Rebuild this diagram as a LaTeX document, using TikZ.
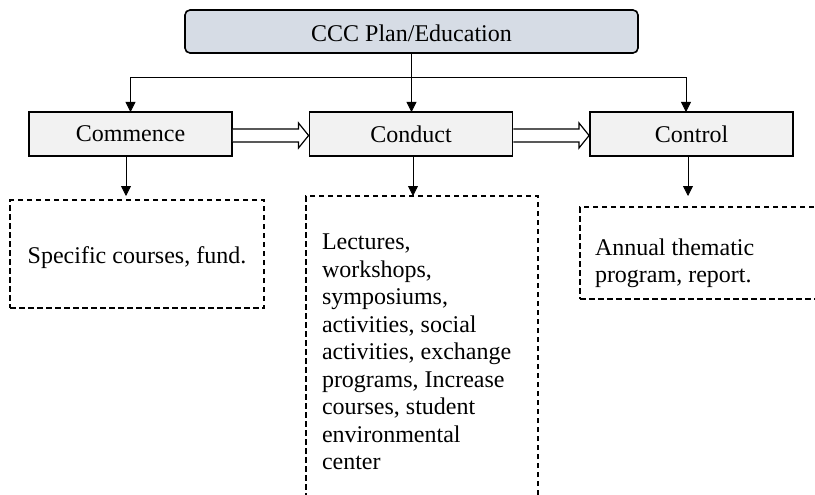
\documentclass[tikz,border=0pt]{standalone}
\usepackage{fontspec}
\setmainfont{Liberation Serif}
\usetikzlibrary{arrows.meta,calc}
\definecolor{headfill}{HTML}{D6DCE5}
\definecolor{stagefill}{HTML}{F2F2F2}
% hollow block arrow from the east side of #1 to the west side of #2
\newcommand\stagearrow[2]{%
  \draw[hollow] ($(#1.east)+(0.9,-5)$) -- ($(#2.west)+(-11,-5)$)
    -- ($(#2.west)+(-11,-11)$) -- ($(#2.west)+(-0.9,1.5)$)
    -- ($(#2.west)+(-11,14)$) -- ($(#2.west)+(-11,8)$)
    -- ($(#1.east)+(0.9,8)$);}
\begin{document}
\begin{tikzpicture}[x=1pt,y=-1pt,
  every node/.style={font=\fontsize{24}{27.5}\selectfont, inner sep=0pt, outer sep=0pt},
  headbox/.style={draw, line width=1.6pt, rounded corners=5pt, fill=headfill,
    minimum width=453pt, minimum height=43pt, text height=20pt, text depth=0pt},
  stagebox/.style={draw, line width=1.9pt, fill=stagefill,
    minimum width=203pt, minimum height=44pt},
  notebox/.style={draw, dash pattern=on 5.5pt off 3.5pt, line width=1.3pt},
  conn/.style={line width=0.8pt},
  downarrow/.style={conn, -{Triangle[length=10pt,width=10pt]}},
  hollow/.style={draw, line width=1.2pt, fill=white},
  bodytext/.style={align=left, anchor=north west}
]
\clip (0,0) rectangle (815,495);

% header and the three stages
\node[headbox] (top) at (411.5,31.5) {CCC Plan/Education};
\node[stagebox] (commence) at (130.5,134) {Commence};
\node[stagebox] (conduct) at (411,134) {Conduct};
\node[stagebox] (control) at (691.5,134) {Control};

% dashed note boxes
\node[notebox, minimum width=254pt, minimum height=108pt] (fundbox) at (137,254) {};
\node[notebox, minimum width=232pt, minimum height=328pt] (actbox) at (422,360) {};
\node[notebox, minimum width=260pt, minimum height=92pt] (progbox) at (710,253) {};

\node[anchor=base] (fundtext) at (137,263) {Specific courses, fund.};
\node[bodytext] (acttext) at (322,234) {Lectures,\\workshops,\\symposiums,\\activities, social\\activities, exchange\\programs, Increase\\courses, student\\environmental\\center};
\node[bodytext] (progtext) at (595,238.6) {Annual thematic\\program, report.};

% distribution from the header
\coordinate (bus) at (411.5,77);
\draw[downarrow] (top.south) -- (top.south |- conduct.north);
\draw[downarrow] (bus) -| (commence.north);
\draw[downarrow] (bus) -| ($(control.north)+(-5.5,0)$);

% stage to stage
\stagearrow{commence}{conduct}
\stagearrow{conduct}{control}

% stage to notes
\coordinate (fundtip) at (126,196);
\coordinate (acttip) at (413,196);
\coordinate (progtip) at (688,196);
\draw[downarrow] (commence.south -| fundtip) -- (fundtip);
\draw[downarrow] (conduct.south -| acttip) -- (acttip);
\draw[downarrow] (control.south -| progtip) -- (progtip);
\end{tikzpicture}
\end{document}
